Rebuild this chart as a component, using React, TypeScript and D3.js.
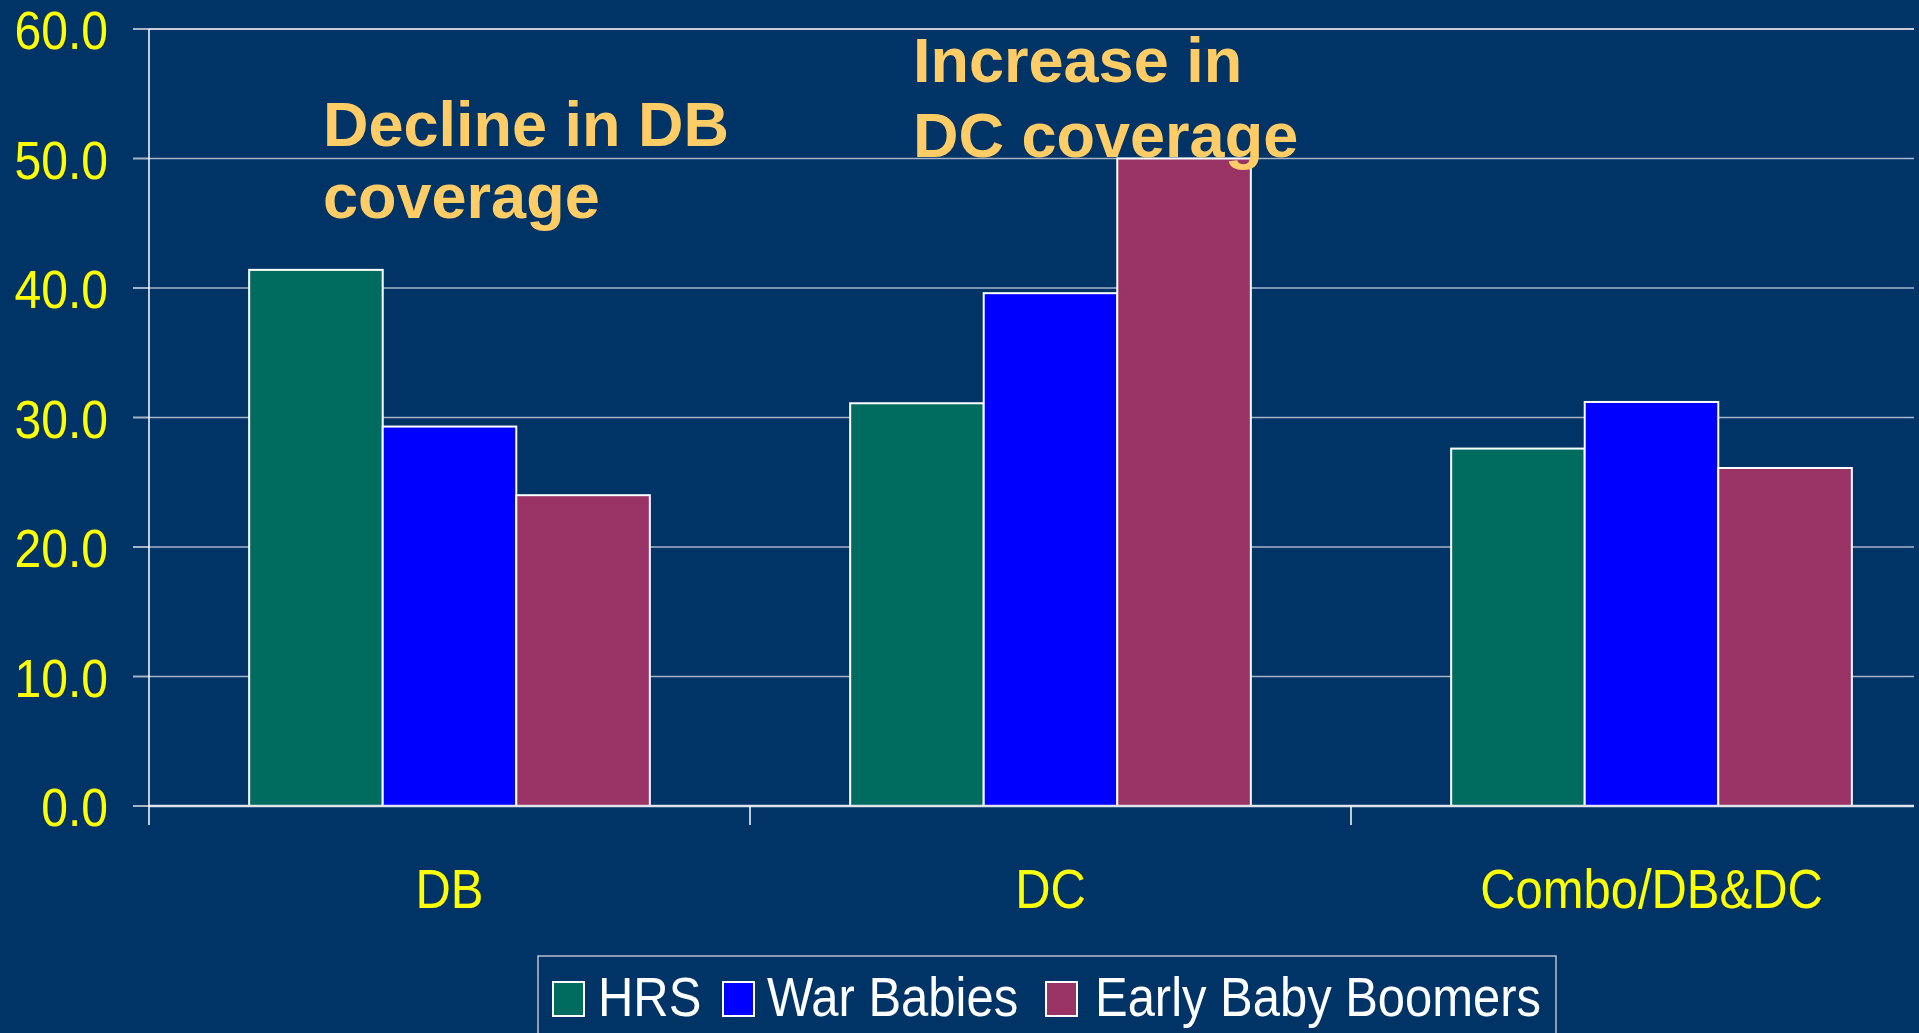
import React from "react";
import * as d3 from "d3";

// Pension coverage by cohort
const categories = ["DB", "DC", "Combo/DB&DC"];
const seriesNames = ["HRS", "War Babies", "Early Baby Boomers"];
const hrsValues = [41.4, 31.1, 27.6];
const warBabiesValues = [29.3, 39.6, 31.2];
const earlyBoomersValues = [24.0, 50.0, 26.1];
const yTicks = [0, 10, 20, 30, 40, 50, 60];
const seriesColors = ["#006C60", "#0000FF", "#993366"];

const W = 1919;
const H = 1033;
const BG = "#003366";
const LABEL_FONT = "'Liberation Sans', Arial, sans-serif";
const SQUEEZE = 0.89;

export default function App() {
  const plotLeft = 149;
  const plotRight = 1914;
  const y = d3.scaleLinear().domain([0, 60]).range([806, 29]);
  const x = d3.scaleBand<string>().domain(categories).range([149, 149 + 3 * 601]).padding(0);
  const inner = d3
    .scaleBand<string>()
    .domain(seriesNames)
    .range([0, x.bandwidth()])
    .paddingInner(0)
    .paddingOuter(0.75);

  const series = [hrsValues, warBabiesValues, earlyBoomersValues];
  const bars = categories.flatMap((c, ci) =>
    seriesNames.map((s, si) => ({ c, s, v: series[si][ci], color: seriesColors[si] }))
  );

  const legendItems = [
    { name: seriesNames[0], sx: 553, tx: 598 },
    { name: seriesNames[1], sx: 723, tx: 767 },
    { name: seriesNames[2], sx: 1046, tx: 1095 },
  ];

  return (
    <div style={{ position: "absolute", left: 0, top: 0 }}>
      <svg width={W} height={H} style={{ display: "block" }}>
        <rect x={0} y={0} width={W} height={H} fill={BG} />

        {/* gridlines */}
        {yTicks.map((t) => (
          <line
            key={`g${t}`}
            x1={plotLeft}
            x2={plotRight}
            y1={y(t)}
            y2={y(t)}
            stroke={t === 60 ? "#c8cdd8" : "#a8b4c8"}
            strokeWidth={t === 60 ? 2 : 1.3}
          />
        ))}

        {/* y ticks and labels */}
        {yTicks.map((t) => (
          <g key={`t${t}`}>
            <line x1={133} x2={plotLeft} y1={y(t)} y2={y(t)} stroke="#a8b4c8" strokeWidth={2} />
            <g transform={`translate(108,${y(t) + 20}) scale(${SQUEEZE},1)`}>
              <text textAnchor="end" fontFamily={LABEL_FONT} fontSize={54} fill="#FFFF00">
                {t.toFixed(1)}
              </text>
            </g>
          </g>
        ))}

        {/* bars */}
        {bars.map((b) => (
          <rect
            key={`${b.c}-${b.s}`}
            x={(x(b.c) ?? 0) + (inner(b.s) ?? 0)}
            y={y(b.v)}
            width={inner.bandwidth()}
            height={y(0) - y(b.v)}
            fill={b.color}
            stroke="#ffffff"
            strokeWidth={2}
          />
        ))}

        {/* axes */}
        <line x1={plotLeft} x2={plotRight} y1={y(0)} y2={y(0)} stroke="#e0e4ea" strokeWidth={2.5} />
        <line x1={plotLeft} x2={plotLeft} y1={y(60)} y2={825} stroke="#ffffff" strokeWidth={1.5} />
        {categories.map((c, i) =>
          i === 0 ? null : (
            <line key={`xt${c}`} x1={x(c)} x2={x(c)} y1={y(0)} y2={825} stroke="#ffffff" strokeWidth={1.5} />
          )
        )}

        {/* category labels */}
        {categories.map((c) => (
          <g key={`xl${c}`} transform={`translate(${(x(c) ?? 0) + x.bandwidth() / 2},908) scale(${SQUEEZE},1)`}>
            <text textAnchor="middle" fontFamily={LABEL_FONT} fontSize={55} fill="#FFFF00">
              {c}
            </text>
          </g>
        ))}

        {/* annotations */}
        <g fontFamily={LABEL_FONT} fontWeight="bold" fontSize={63} fill="#FFCC66">
          <text x={323} y={146}>Decline in DB</text>
          <text x={323} y={218}>coverage</text>
          <text x={913} y={82}>Increase in</text>
          <text x={913} y={157}>DC coverage</text>
        </g>

        {/* legend */}
        <rect x={538} y={956} width={1018} height={100} fill="none" stroke="#b8c0cc" strokeWidth={1.5} />
        {legendItems.map((it, i) => (
          <g key={`lg${it.name}`}>
            <rect x={it.sx} y={982} width={31} height={34} fill={seriesColors[i]} stroke="#ffffff" strokeWidth={2} />
            <g transform={`translate(${it.tx},1016) scale(${SQUEEZE},1)`}>
              <text fontFamily={LABEL_FONT} fontSize={55} fill="#ffffff">
                {it.name}
              </text>
            </g>
          </g>
        ))}
      </svg>
    </div>
  );
}
